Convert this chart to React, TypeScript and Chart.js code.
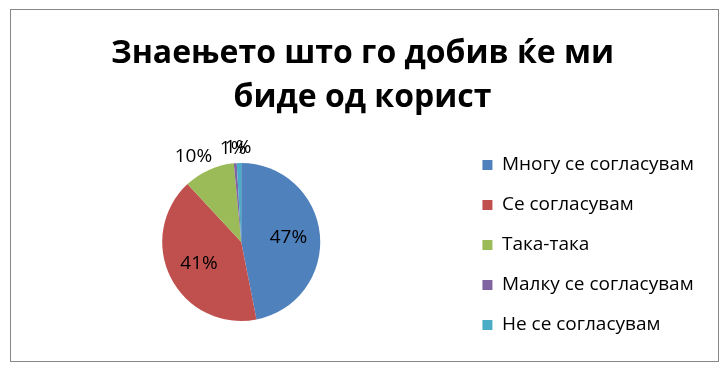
import { useEffect, useRef } from "react";
import { Chart, registerables } from "chart.js";

Chart.register(...registerables);

const categories = [
  "Многу се согласувам",
  "Се согласувам",
  "Така-така",
  "Малку се согласувам",
  "Не се согласувам",
];
const values = [46.9, 41.2, 10.4, 0.6, 0.9];
const colors = ["#4F81BD", "#C0504D", "#9BBB59", "#8064A2", "#4BACC6"];
const titleLines = ["Знаењето што го добив ќе ми", "биде од корист"];

const FONT = "'Open Sans', 'Noto Sans', sans-serif";

const pctLabels = {
  id: "pctLabels",
  afterDatasetsDraw(chart: any) {
    const ctx = chart.ctx as CanvasRenderingContext2D;
    const meta = chart.getDatasetMeta(0);
    const data = chart.data.datasets[0].data as number[];
    const total = data.reduce((a: number, b: number) => a + b, 0);
    ctx.save();
    ctx.font = `19px ${FONT}`;
    ctx.fillStyle = "#000";
    ctx.textAlign = "center";
    ctx.textBaseline = "middle";
    meta.data.forEach((arc: any, i: number) => {
      const { x, y, startAngle, endAngle, outerRadius } = arc.getProps(
        ["x", "y", "startAngle", "endAngle", "outerRadius"],
        true
      );
      const mid = (startAngle + endAngle) / 2;
      const share = data[i] / total;
      const text = Math.round(share * 100) + "%";
      const dx = Math.cos(mid);
      const dy = Math.sin(mid);
      if (share >= 0.2) {
        ctx.fillText(text, x + dx * outerRadius * 0.6, y + dy * outerRadius * 0.6);
      } else {
        const w = ctx.measureText(text).width;
        const h = 14;
        const d = outerRadius + 8;
        ctx.fillText(text, x + dx * d + dx * w * 0.8, y + dy * d + (dy * h) / 2);
      }
    });
    ctx.restore();
  },
};

const legendNudge = {
  id: "legendNudge",
  afterLayout(chart: any) {
    if (chart.legend) {
      chart.legend.top += 3;
      chart.legend.bottom += 3;
    }
  },
};

export default function App() {
  const ref = useRef<HTMLCanvasElement | null>(null);
  useEffect(() => {
    if (!ref.current) return;
    const chart = new Chart(ref.current, {
      type: "pie",
      data: {
        labels: categories,
        datasets: [
          {
            data: values,
            backgroundColor: colors,
            borderWidth: 0,
            radius: 79,
          } as any,
        ],
      },
      options: {
        responsive: false,
        animation: false,
        layout: { padding: { left: 10, right: 14, top: 0, bottom: 8 } },
        plugins: {
          title: {
            display: true,
            text: titleLines,
            color: "#000",
            font: { family: FONT, size: 32, weight: "bold", lineHeight: "44px" } as any,
            padding: { top: 22, bottom: 11 },
          },
          legend: {
            position: "right",
            fullSize: false,
            labels: {
              boxWidth: 10,
              boxHeight: 10,
              padding: 21,
              color: "#000",
              font: { family: FONT, size: 19 },
            },
          },
          tooltip: { enabled: false },
        },
      },
      plugins: [pctLabels, legendNudge],
    });
    return () => chart.destroy();
  }, []);
  return (
    <div
      style={{
        position: "absolute",
        left: 10,
        top: 9,
        width: 709,
        height: 353,
        border: "1px solid #878787",
        boxSizing: "border-box",
        background: "#fff",
      }}
    >
      <canvas ref={ref} width={707} height={351} style={{ display: "block", width: 707, height: 351 }} />
    </div>
  );
}
